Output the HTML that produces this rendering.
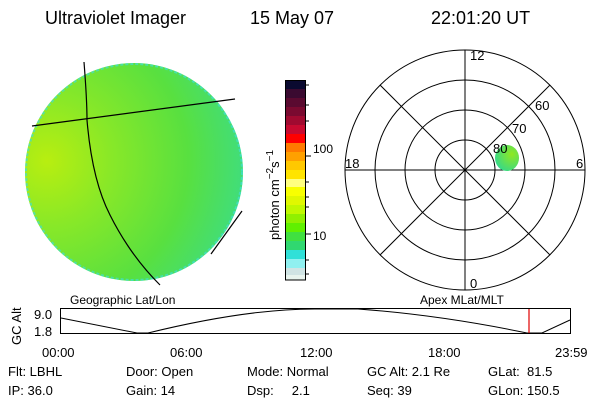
<!DOCTYPE html>
<html><head><style>
body{margin:0;background:#fff;width:600px;height:400px;overflow:hidden}
svg{display:block}
text{font-family:"Liberation Sans","DejaVu Sans",sans-serif;fill:#000;white-space:pre}
</style></head><body>
<svg width="600" height="400" viewBox="0 0 600 400" xmlns="http://www.w3.org/2000/svg">
<defs>
<radialGradient id="dg" cx="0.1" cy="0.45" r="1.0">
<stop offset="0" stop-color="#b8ee10"/>
<stop offset="0.3" stop-color="#88e828"/>
<stop offset="0.65" stop-color="#58e040"/>
<stop offset="1" stop-color="#38dc90"/>
</radialGradient>
<radialGradient id="bg2" cx="0.7" cy="0.35" r="0.8">
<stop offset="0" stop-color="#90e820"/>
<stop offset="1" stop-color="#30d890"/>
</radialGradient>
</defs>
<text x="45" y="24" font-size="18">Ultraviolet Imager</text>
<text x="250" y="24" font-size="18">15 May 07</text>
<text x="431" y="24" font-size="18">22:01:20 UT</text>

<!-- disk -->
<circle cx="134" cy="172" r="109" fill="url(#dg)"/>
<circle cx="134" cy="172" r="108" fill="none" stroke="#40e0d0" stroke-width="2" stroke-dasharray="3 2" opacity="0.7"/>
<path d="M84 62 Q87 100 87 120 Q92 180 110 215 Q130 255 160 285" fill="none" stroke="#000" stroke-width="1.2"/>
<line x1="32" y1="126" x2="235" y2="99" stroke="#000" stroke-width="1.2"/>
<line x1="242" y1="211" x2="211" y2="254" stroke="#000" stroke-width="1.2"/>

<!-- colorbar -->
<g>
<rect x="285" y="80" width="21" height="9" fill="#0a0a30"/>
<rect x="285" y="89" width="21" height="9" fill="#3a0a30"/>
<rect x="285" y="98" width="21" height="9" fill="#5a0a30"/>
<rect x="285" y="107" width="21" height="9" fill="#7a0a30"/>
<rect x="285" y="116" width="21" height="9" fill="#a00a30"/>
<rect x="285" y="125" width="21" height="9" fill="#c80a30"/>
<rect x="285" y="134" width="21" height="9" fill="#ff0000"/>
<rect x="285" y="143" width="21" height="9" fill="#ff7a00"/>
<rect x="285" y="152" width="21" height="9" fill="#ffa000"/>
<rect x="285" y="161" width="21" height="9" fill="#ffc800"/>
<rect x="285" y="170" width="21" height="9" fill="#ffe400"/>
<rect x="285" y="179" width="21" height="8" fill="#ffff80"/>
<rect x="285" y="187" width="21" height="9" fill="#f8ff00"/>
<rect x="285" y="196" width="21" height="9" fill="#e0f800"/>
<rect x="285" y="205" width="21" height="9" fill="#c0f800"/>
<rect x="285" y="214" width="21" height="9" fill="#90f000"/>
<rect x="285" y="223" width="21" height="9" fill="#60f000"/>
<rect x="285" y="232" width="21" height="9" fill="#40e040"/>
<rect x="285" y="241" width="21" height="9" fill="#30d870"/>
<rect x="285" y="250" width="21" height="9" fill="#30e0d8"/>
<rect x="285" y="259" width="21" height="9" fill="#90f0f0"/>
<rect x="285" y="268" width="21" height="7" fill="#d0e4e4"/>
<rect x="285" y="275" width="21" height="5" fill="#e8f4ee"/>
<rect x="285.5" y="80.5" width="20" height="199.5" fill="none" stroke="#000"/>
<g stroke="#000">
<line x1="306" y1="156" x2="311" y2="156"/><line x1="306" y1="234" x2="311" y2="234"/>
<line x1="306" y1="85" x2="309" y2="85"/><line x1="306" y1="105" x2="309" y2="105"/><line x1="306" y1="121" x2="309" y2="121"/>
<line x1="306" y1="182" x2="309" y2="182"/><line x1="306" y1="197" x2="309" y2="197"/><line x1="306" y1="207" x2="309" y2="207"/>
<line x1="306" y1="260" x2="309" y2="260"/><line x1="306" y1="274" x2="309" y2="274"/>
</g>
<text x="313" y="153" font-size="12">100</text>
<text x="313" y="240" font-size="12">10</text>
<text transform="translate(279,240) rotate(-90)" font-size="13">photon cm<tspan dy="-6" font-size="10">−2</tspan><tspan dy="6">s</tspan><tspan dy="-6" font-size="10">−1</tspan></text>
</g>

<!-- polar -->
<g fill="none" stroke="#000" stroke-width="1">
<circle cx="465" cy="170" r="120"/>
<circle cx="465" cy="170" r="90"/>
<circle cx="465" cy="170" r="60"/>
<circle cx="465" cy="170" r="30"/>
<line x1="345" y1="170" x2="585" y2="170"/>
<line x1="465" y1="50" x2="465" y2="290"/>
<line x1="380" y1="85" x2="550" y2="255"/>
<line x1="380" y1="255" x2="550" y2="85"/>
</g>
<ellipse cx="507" cy="158" rx="12" ry="13" fill="url(#bg2)"/>
<text x="470" y="60" font-size="13">12</text>
<text x="470" y="288" font-size="13">0</text>
<text x="345" y="168" font-size="13">18</text>
<text x="576" y="168" font-size="13">6</text>
<text x="535" y="110" font-size="13">60</text>
<text x="512" y="133" font-size="13">70</text>
<text x="493" y="153" font-size="13">80</text>

<!-- strip -->
<text x="70" y="304" font-size="12">Geographic Lat/Lon</text>
<text x="420" y="304" font-size="12">Apex MLat/MLT</text>
<rect x="60.5" y="308.5" width="510" height="25" fill="#fff" stroke="#000"/>
<path d="M61 318 L137 333 L148 333 Q250 308 320 309 L358 309 Q440 315 527 333 L542 333 L570 320" fill="none" stroke="#000" stroke-width="1"/>
<line x1="529" y1="309" x2="529" y2="333" stroke="#e00000" stroke-width="1.2"/>
<text x="34" y="319" font-size="13">9.0</text>
<text x="34" y="336" font-size="13">1.8</text>
<text transform="translate(21,345) rotate(-90)" font-size="13">GC Alt</text>
<text x="42" y="357" font-size="13">00:00</text>
<text x="170" y="357" font-size="13">06:00</text>
<text x="300" y="357" font-size="13">12:00</text>
<text x="428" y="357" font-size="13">18:00</text>
<text x="555" y="357" font-size="13">23:59</text>
<g font-size="13">
<text x="8" y="376">Flt: LBHL</text>
<text x="126" y="376">Door: Open</text>
<text x="247" y="376">Mode: Normal</text>
<text x="367" y="376">GC Alt: 2.1 Re</text>
<text x="488" y="376">GLat:  81.5</text>
<text x="8" y="395">IP: 36.0</text>
<text x="126" y="395">Gain: 14</text>
<text x="247" y="395">Dsp:     2.1</text>
<text x="367" y="395">Seq: 39</text>
<text x="488" y="395">GLon: 150.5</text>
</g>
</svg>
</body></html>
